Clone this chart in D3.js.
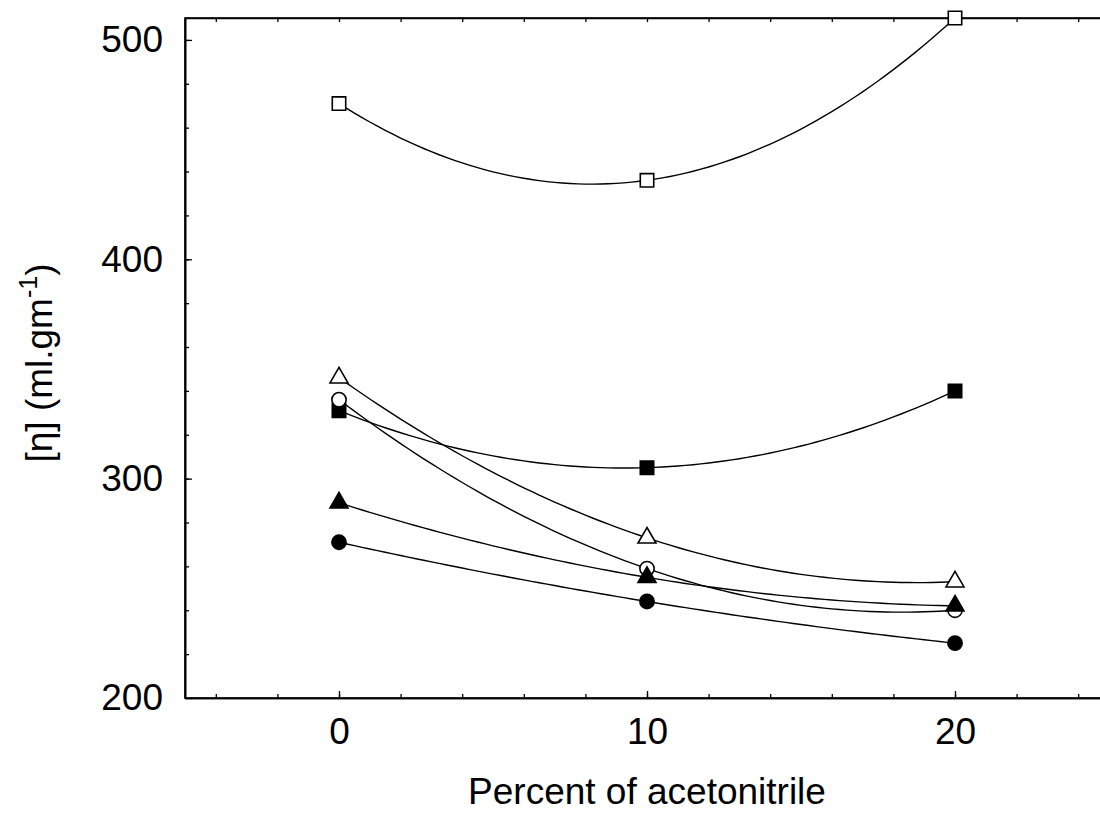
<!DOCTYPE html>
<html>
<head>
<meta charset="utf-8">
<script src="https://cdn.jsdelivr.net/npm/d3@7"></script>
<style>
  body { margin: 0; background: #fff; }
  text { font-family: "Liberation Sans", Arial, sans-serif; fill: #000; }
</style>
</head>
<body>
<svg width="1100" height="829"></svg>
<script>
// acetonitrile percent on x, intrinsic viscosity on y
var percent = [0, 10, 20];
var openSquare = [471, 436, 510];
var filledSquare = [331, 305, 340];
var openTriangle = [346, 273, 253];
var openCircle = [336, 259, 240];
var filledTriangle = [289, 255, 242];
var filledCircle = [271, 244, 225];

var xTicks = [0, 10, 20],
    yTicks = [200, 300, 400, 500];

var svg = d3.select("svg"),
    width = +svg.attr("width"),
    height = +svg.attr("height");

var x = d3.scaleLinear().domain([-5, 25]).range([185, 1109]),
    y = d3.scaleLinear().domain([200, 510]).range([698, 18]);

// series drawn back to front, open circle sits under the filled marks at 20
var series = [
    { values: openSquare, shape: "square", fill: "#fff" },
    { values: filledSquare, shape: "square", fill: "#000" },
    { values: openTriangle, shape: "triangle", fill: "#fff" },
    { values: openCircle, shape: "circle", fill: "#fff" },
    { values: filledTriangle, shape: "triangle", fill: "#000" },
    { values: filledCircle, shape: "circle", fill: "#000" }
];

// frame
svg.append("rect")
    .attr("x", x(-5))
    .attr("y", y(510))
    .attr("width", x(25) - x(-5))
    .attr("height", y(200) - y(510))
    .attr("fill", "none")
    .attr("stroke", "#000")
    .attr("stroke-width", 1.6);

// bottom axis with inward ticks
var gx = svg.append("g")
    .attr("transform", "translate(0," + y(200) + ")")
    .call(d3.axisBottom(x).tickValues(xTicks).tickSize(-7).tickSizeOuter(0).tickPadding(20));
svg.append("g")
    .attr("transform", "translate(0," + y(200) + ")")
    .call(d3.axisBottom(x).tickValues(d3.range(-4, 25, 2)).tickFormat("").tickSize(-4).tickSizeOuter(0));
svg.append("g")
    .attr("transform", "translate(0," + y(510) + ")")
    .call(d3.axisTop(x).tickValues(d3.range(-4, 25, 2)).tickFormat("").tickSize(-4).tickSizeOuter(0));

// left axis
var gy = svg.append("g")
    .attr("transform", "translate(" + x(-5) + ",0)")
    .call(d3.axisLeft(y).tickValues(yTicks).tickSize(-7).tickSizeOuter(0).tickPadding(22));
svg.append("g")
    .attr("transform", "translate(" + x(-5) + ",0)")
    .call(d3.axisLeft(y).tickValues(d3.range(220, 510, 20)).tickFormat("").tickSize(-4).tickSizeOuter(0));

svg.selectAll(".domain").attr("stroke", "#000").attr("stroke-width", 1.6);
svg.selectAll(".tick line").attr("stroke", "#000").attr("stroke-width", 1.3);
svg.selectAll(".tick text")
    .attr("font-family", "Liberation Sans, Arial, sans-serif")
    .attr("font-size", 37)
    .attr("fill", "#000");

// axis titles
svg.append("text")
    .attr("x", x(10))
    .attr("y", 804)
    .attr("text-anchor", "middle")
    .attr("font-size", 37)
    .text("Percent of acetonitrile");

var ylab = svg.append("text")
    .attr("transform", "translate(52," + 363 + ") rotate(-90)")
    .attr("text-anchor", "middle")
    .attr("font-size", 37);
ylab.append("tspan").text("[\u03b7] (ml.gm");
ylab.append("tspan").attr("dy", -15).attr("font-size", 25).text("-1");
ylab.append("tspan").attr("dy", 15).text(")");

// quadratic through the three points of a series
function quad(vals) {
    return function(t) {
        var s = 0;
        for (var i = 0; i < 3; i++) {
            var l = vals[i];
            for (var j = 0; j < 3; j++) {
                if (j !== i) l *= (t - percent[j]) / (percent[i] - percent[j]);
            }
            s += l;
        }
        return s;
    };
}

var samples = d3.range(0, 20.001, 0.25);
var line = d3.line()
    .x(function(d) { return x(d[0]); })
    .y(function(d) { return y(d[1]); });

svg.append("g")
    .selectAll("path")
    .data(series)
    .enter().append("path")
    .attr("d", function(s) {
        var f = quad(s.values);
        return line(samples.map(function(t) { return [t, f(t)]; }));
    })
    .attr("fill", "none")
    .attr("stroke", "#000")
    .attr("stroke-width", 1.4);

function symbolFor(shape) {
    if (shape === "square") return d3.symbol().type(d3.symbolSquare).size(180)();
    if (shape === "triangle") return d3.symbol().type(d3.symbolTriangle).size(140)();
    return d3.symbol().type(d3.symbolCircle).size(160)();
}

series.forEach(function(s) {
    svg.append("g")
        .selectAll("path")
        .data(s.values)
        .enter().append("path")
        .attr("transform", function(d, i) { return "translate(" + x(percent[i]) + "," + y(d) + ")"; })
        .attr("d", symbolFor(s.shape))
        .attr("fill", s.fill)
        .attr("stroke", "#000")
        .attr("stroke-width", 1.6);
});
</script>
</body>
</html>
